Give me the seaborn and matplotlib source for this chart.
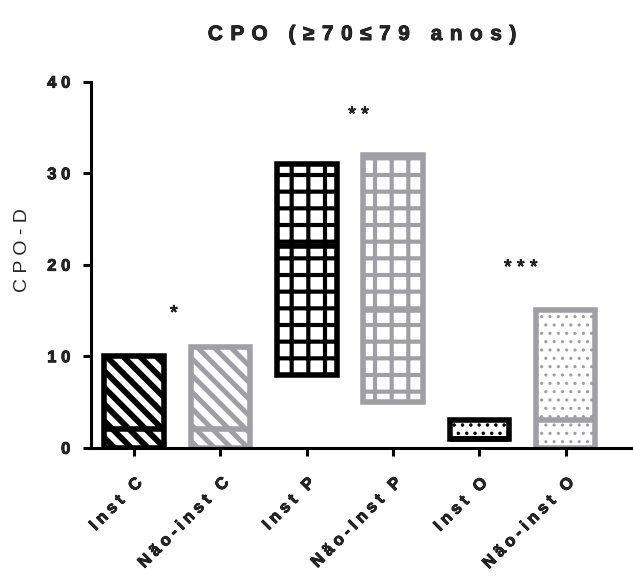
import numpy as np
import pandas as pd
import matplotlib
matplotlib.use("Agg")
import matplotlib.pyplot as plt
import matplotlib.patheffects as pe
import seaborn as sns

# floating bars: min -> max, with a line at the median
groups = ['Inst C', 'Não-inst C', 'Inst P', 'Não-Inst P', 'Inst O', 'Não-inst O']
mins = [0, 0, 8, 5, 1, 0]
maxs = [10, 11, 31, 32, 3, 15]
medians = [2, 2, 22, 15, 1, 3]
stars = ['*', '**', '***']
star_x = [0.46, 2.6, 4.48]
star_y = [14.6, 36.3, 19.6]

BLACK = '#000000'
GREY = '#a0a0a4'
edge_colors = [BLACK, GREY, BLACK, GREY, BLACK, GREY]
hatches = ['\\\\', '\\\\', '+', '+', '..', '..']
hatch_lw = [4.2, 3.6, 3.0, 3.0, 1.3, 1.1]

WIDE = ' \u200a'   # letter gap used by the title


def spaced(s, sep='\u2005'):
    # Prism-style letter spacing
    return sep.join(list(s))


sns.set_style('ticks')
plt.rcParams['font.family'] = ['Liberation Sans', 'DejaVu Sans']
heavy = [pe.withStroke(linewidth=0.6, foreground='black')]

df = pd.DataFrame({'group': groups,
                   'span': np.array(maxs) - np.array(mins)})

fig = plt.figure(figsize=(6.33, 5.76), dpi=100)
ax = fig.add_axes([0.1438, 0.2227, 0.8562, 0.6355])

sns.barplot(data=df, x='group', y='span', order=groups, bottom=mins,
            width=0.69, errorbar=None, fill=True, color='white', ax=ax)

for i, p in enumerate(ax.patches):
    p.set_facecolor('white')
    p.set_edgecolor(edge_colors[i])
    p.set_linewidth(4.0)
    p.set_hatch(hatches[i])
    if hasattr(p, 'set_hatch_linewidth'):
        p.set_hatch_linewidth(hatch_lw[i])
    x0 = p.get_x()
    ax.hlines(medians[i], x0, x0 + p.get_width(), color=edge_colors[i],
              lw=4.0, zorder=p.get_zorder() + 0.1)

for s, sx, sy in zip(stars, star_x, star_y):
    ax.text(sx, sy, spaced(s, ' '), ha='center', va='center', fontsize=14,
            path_effects=heavy)

ax.set_ylim(0, 40)
ax.set_xlim(-0.5, 5.78)
ax.set_yticks([0, 10, 20, 30, 40])
ax.set_yticklabels([spaced(str(v), ' ') for v in [0, 10, 20, 30, 40]],
                   fontsize=12, fontweight='bold', path_effects=heavy)
ax.set_xticks(range(len(groups)))
ax.set_xticklabels([spaced(g) for g in groups], rotation=45, ha='right',
                   rotation_mode='anchor', fontsize=12, fontweight='bold',
                   path_effects=heavy)
ax.set_xlabel('')
ax.set_ylabel(spaced('CPO-D', ' '), fontsize=14)
ax.yaxis.set_label_coords(-0.11, 0.54)
ax.set_title(spaced('CPO (≥70≤79 anos)', WIDE), fontsize=15,
             fontweight='bold', pad=30, path_effects=heavy)

for side in ['top', 'right']:
    ax.spines[side].set_visible(False)
for side in ['left', 'bottom']:
    ax.spines[side].set_linewidth(2.2)
    ax.spines[side].set_color('black')
ax.tick_params(axis='both', width=2.2, length=6, color='black')
ax.tick_params(axis='y', pad=9)
ax.tick_params(axis='x', pad=14)

fig.savefig('out.png', dpi=100)
